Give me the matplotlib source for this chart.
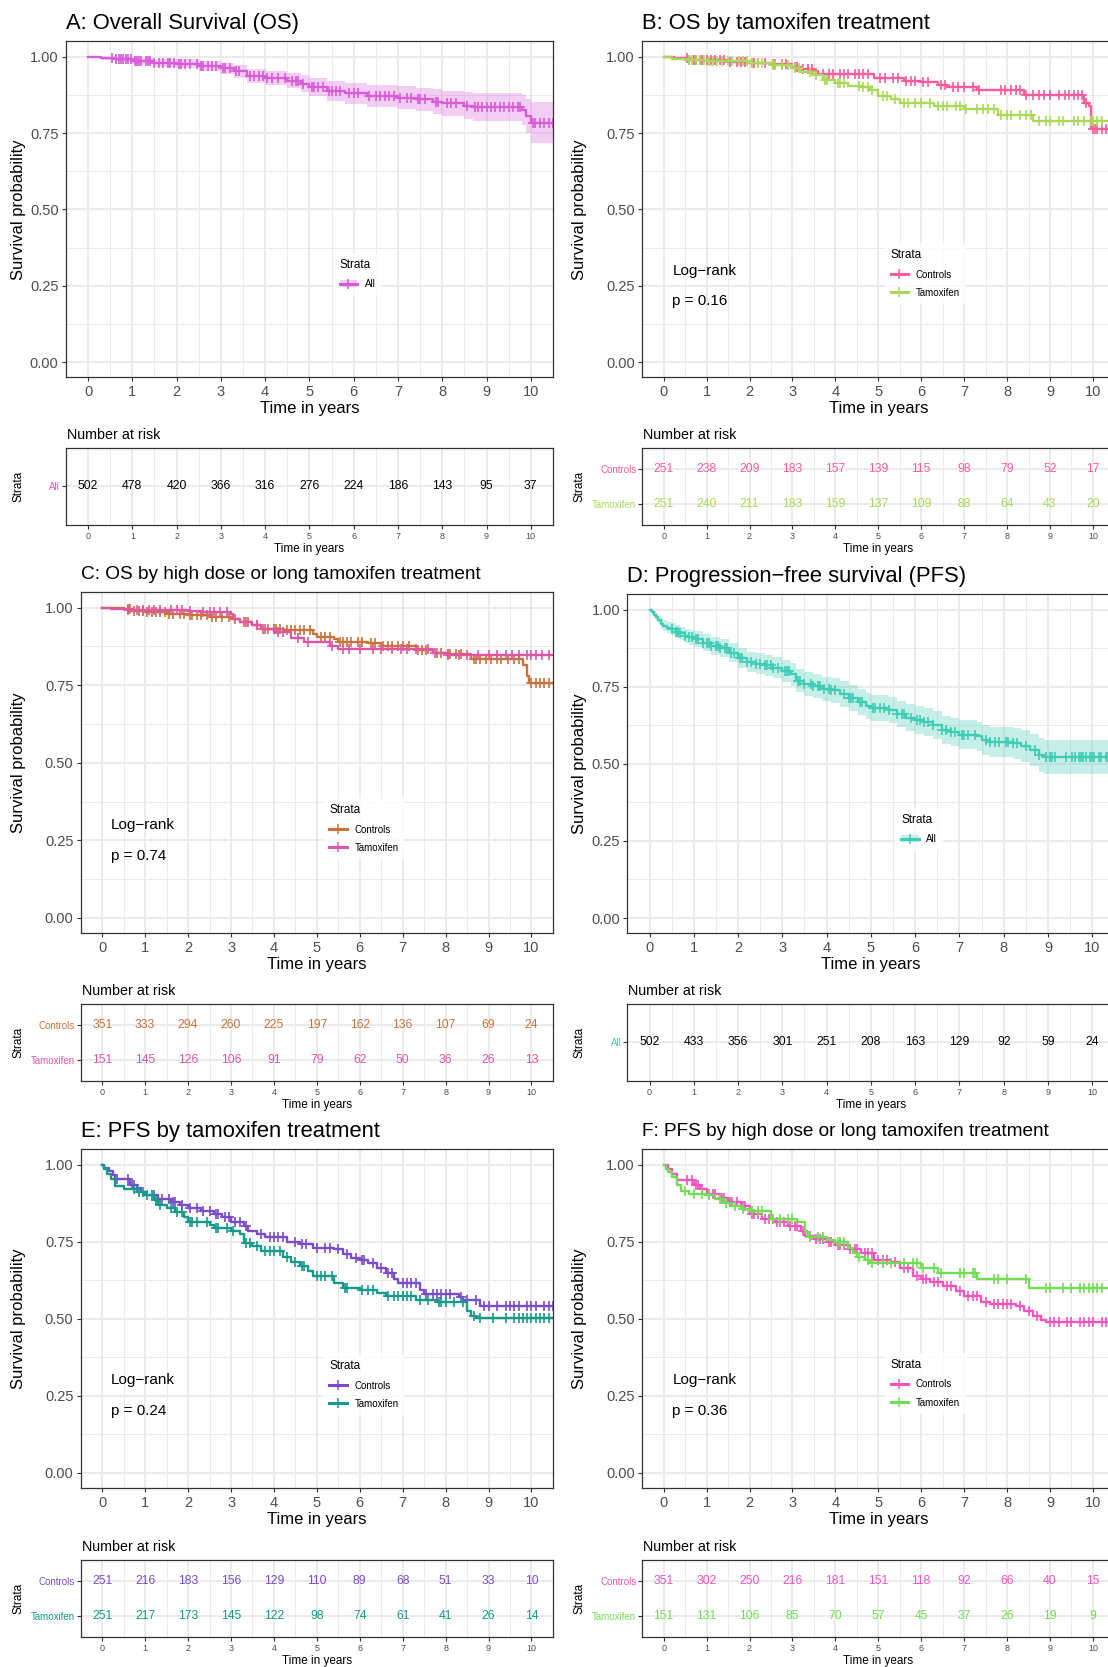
import matplotlib
matplotlib.use("Agg")
import matplotlib.pyplot as plt
from matplotlib.lines import Line2D
from matplotlib.patches import Patch
from matplotlib.ticker import MultipleLocator, FormatStrFormatter
import numpy as np

plt.rcParams['font.family'] = ['Liberation Sans', 'DejaVu Sans']

years = list(range(11))
strata2 = ['Controls', 'Tamoxifen']

# ---------------- A: overall survival ----------------
a_time = [0, 0.3, 0.6, 1.0, 1.5, 2.0, 2.5, 3.0, 3.3, 3.6, 4.0, 4.5, 4.8, 5.0, 5.4, 5.8,
          6.3, 7.0, 7.4, 7.8, 8.0, 8.5, 8.7, 9.8, 9.9, 10.0, 10.6]
a_surv = [1.0, 0.995, 0.991, 0.986, 0.981, 0.977, 0.970, 0.962, 0.952, 0.937, 0.930, 0.922,
          0.912, 0.900, 0.888, 0.880, 0.872, 0.866, 0.860, 0.853, 0.847, 0.840, 0.834, 0.826,
          0.805, 0.782, 0.782]
a_lo = [1.0, 0.988, 0.982, 0.975, 0.968, 0.963, 0.954, 0.944, 0.932, 0.915, 0.906, 0.896,
        0.884, 0.870, 0.856, 0.846, 0.837, 0.829, 0.821, 0.812, 0.805, 0.796, 0.788, 0.778,
        0.750, 0.718, 0.718]
a_hi = [1.0, 1.0, 1.0, 0.997, 0.993, 0.991, 0.986, 0.980, 0.972, 0.960, 0.954, 0.948,
        0.940, 0.930, 0.920, 0.914, 0.907, 0.903, 0.899, 0.894, 0.889, 0.884, 0.880, 0.874,
        0.860, 0.852, 0.852]
a_cens = [0.55, 0.62, 0.7, 0.75, 0.8, 0.85, 0.9, 0.97, 1.05, 1.1, 1.15, 1.2, 1.3, 1.35, 1.4,
          1.5, 1.6, 1.7, 1.8, 1.85, 1.95, 2.05, 2.1, 2.2, 2.3, 2.45, 2.55, 2.6, 2.7, 2.8, 2.9,
          3.05, 3.1, 3.2, 3.35, 3.4, 3.65, 3.75, 3.85, 3.95, 4.05, 4.15, 4.3, 4.45, 4.6, 4.7,
          4.75, 4.85, 5.05, 5.1, 5.2, 5.3, 5.45, 5.5, 5.6, 5.7, 5.9, 6.0, 6.1, 6.35, 6.5, 6.6,
          6.7, 6.8, 6.9, 7.05, 7.2, 7.3, 7.45, 7.5, 7.6, 7.85, 7.9, 8.1, 8.2, 8.3, 8.55, 8.75,
          8.8, 8.9, 9.0, 9.1, 9.2, 9.3, 9.4, 9.5, 9.6, 9.7, 9.75, 10.05, 10.1, 10.2, 10.3, 10.4,
          10.5]
a_risk = [502, 478, 420, 366, 316, 276, 224, 186, 143, 95, 37]

# ---------------- B: OS by tamoxifen ----------------
b_ctrl_time = [0, 0.25, 0.6, 1.0, 1.5, 2.0, 2.5, 3.0, 3.2, 3.5, 3.6, 4.9, 5.6, 6.0, 6.4, 6.6,
               7.3, 8.4, 9.8, 9.9, 9.95, 10.6]
b_ctrl_surv = [1.0, 0.996, 0.990, 0.988, 0.983, 0.980, 0.975, 0.965, 0.960, 0.952, 0.943,
               0.932, 0.920, 0.918, 0.908, 0.900, 0.890, 0.876, 0.850, 0.840, 0.765, 0.765]
b_ctrl_cens = [0.55, 0.6, 0.7, 0.75, 0.85, 0.9, 1.0, 1.1, 1.2, 1.3, 1.4, 1.55, 1.7, 1.8, 1.9,
               2.05, 2.1, 2.2, 2.35, 2.55, 2.6, 2.75, 2.85, 3.05, 3.1, 3.25, 3.35, 3.45, 3.7,
               3.85, 3.95, 4.1, 4.2, 4.3, 4.45, 4.55, 4.65, 4.75, 5.05, 5.15, 5.35, 5.45, 5.65,
               5.75, 5.85, 6.05, 6.15, 6.45, 6.55, 6.75, 6.85, 7.0, 7.2, 7.35, 7.85, 7.95, 8.1,
               8.2, 8.3, 8.45, 8.6, 8.75, 8.85, 9.0, 9.2, 9.35, 9.45, 9.55, 9.65, 9.75, 9.85,
               10.0, 10.05, 10.1, 10.2, 10.3, 10.4, 10.5]
b_tam_time = [0, 0.2, 0.6, 1.0, 2.0, 2.5, 3.0, 3.2, 3.5, 3.7, 4.0, 4.3, 4.6, 4.8, 5.0, 5.3,
              5.5, 6.3, 7.0, 7.8, 8.6, 10.6]
b_tam_surv = [1.0, 0.993, 0.990, 0.987, 0.980, 0.972, 0.962, 0.950, 0.940, 0.925, 0.915,
              0.905, 0.900, 0.890, 0.870, 0.860, 0.848, 0.840, 0.830, 0.810, 0.790, 0.790]
b_tam_cens = [0.6, 0.65, 0.75, 0.85, 0.95, 1.05, 1.15, 1.25, 1.35, 1.5, 1.6, 1.75, 1.85, 1.95,
              2.05, 2.2, 2.3, 2.55, 2.6, 2.75, 2.9, 3.05, 3.15, 3.4, 3.55, 3.75, 3.8, 4.05,
              4.1, 4.2, 4.55, 4.65, 4.75, 4.85, 5.1, 5.2, 5.4, 5.6, 5.7, 5.85, 6.0, 6.2, 6.4,
              6.5, 6.6, 6.8, 6.9, 7.05, 7.3, 7.45, 7.55, 7.7, 7.85, 8.0, 8.1, 8.3, 8.45, 8.55,
              8.75, 8.9, 9.0, 9.2, 9.3, 9.55, 9.65, 9.8, 9.95, 10.0, 10.1, 10.2, 10.4, 10.5]
b_risk_ctrl = [251, 238, 209, 183, 157, 139, 115, 98, 79, 52, 17]
b_risk_tam = [251, 240, 211, 183, 159, 137, 109, 88, 64, 43, 20]

# ---------------- C: OS by high dose / long tamoxifen ----------------
c_ctrl_time = [0, 0.5, 0.7, 1.0, 1.5, 2.0, 2.5, 3.0, 3.2, 3.5, 3.7, 4.2, 4.9, 5.0, 5.4, 5.5,
               6.2, 6.5, 7.3, 7.7, 8.0, 8.6, 9.8, 9.9, 9.95, 10.6]
c_ctrl_surv = [1.0, 0.995, 0.990, 0.985, 0.980, 0.975, 0.970, 0.962, 0.955, 0.945, 0.930,
               0.927, 0.915, 0.905, 0.900, 0.890, 0.885, 0.875, 0.865, 0.855, 0.850, 0.835,
               0.815, 0.780, 0.757, 0.757]
c_ctrl_cens = [0.6, 0.65, 0.75, 0.85, 0.95, 1.05, 1.15, 1.25, 1.35, 1.45, 1.55, 1.65, 1.8,
               1.9, 2.05, 2.1, 2.2, 2.3, 2.45, 2.55, 2.65, 2.8, 2.95, 3.1, 3.3, 3.4, 3.6, 3.75,
               3.85, 4.0, 4.05, 4.15, 4.3, 4.4, 4.5, 4.6, 4.7, 4.85, 5.1, 5.2, 5.3, 5.55, 5.6,
               5.7, 5.8, 5.95, 6.05, 6.25, 6.35, 6.55, 6.65, 6.75, 6.9, 7.0, 7.15, 7.35, 7.45,
               7.55, 7.8, 7.9, 8.05, 8.1, 8.25, 8.35, 8.65, 8.7, 8.8, 8.95, 9.05, 9.2, 9.3,
               9.45, 9.6, 9.7, 10.0, 10.1, 10.2, 10.3, 10.4]
c_tam_time = [0, 0.2, 0.6, 2.0, 2.3, 3.0, 3.05, 3.2, 3.5, 3.7, 4.0, 4.4, 4.7, 5.3, 5.5, 7.7,
              8.0, 10.6]
c_tam_surv = [1.0, 0.995, 0.993, 0.990, 0.985, 0.980, 0.965, 0.955, 0.945, 0.930, 0.922,
              0.902, 0.890, 0.875, 0.868, 0.855, 0.848, 0.848]
c_tam_cens = [0.6, 0.8, 0.95, 1.1, 1.2, 1.35, 1.6, 1.75, 1.85, 2.05, 2.35, 2.5, 2.6, 2.75,
              2.9, 3.35, 3.6, 3.8, 4.1, 4.2, 4.55, 4.8, 5.35, 5.6, 5.75, 6.0, 6.3, 6.5, 6.75,
              6.95, 7.1, 7.3, 7.6, 7.75, 8.05, 8.3, 8.5, 8.75, 9.0, 9.2, 9.4, 9.55, 9.7, 9.9,
              10.0, 10.1, 10.25, 10.4]
c_risk_ctrl = [351, 333, 294, 260, 225, 197, 162, 136, 107, 69, 24]
c_risk_tam = [151, 145, 126, 106, 91, 79, 62, 50, 36, 26, 13]

# ---------------- D: progression-free survival ----------------
d_time = [0, 0.05, 0.1, 0.15, 0.2, 0.25, 0.3, 0.4, 0.5, 0.6, 0.7, 0.8, 0.9, 1.0, 1.2, 1.4,
          1.6, 1.8, 2.0, 2.2, 2.4, 2.6, 2.8, 3.0, 3.2, 3.3, 3.5, 3.7, 3.9, 4.1, 4.3, 4.5,
          4.7, 4.9, 5.0, 5.4, 5.6, 5.8, 6.0, 6.2, 6.4, 6.6, 6.8, 7.0, 7.4, 7.5, 7.7, 8.2,
          8.4, 8.6, 8.8, 8.9, 10.6]
d_surv = [1.0, 0.991, 0.984, 0.977, 0.968, 0.955, 0.948, 0.942, 0.937, 0.929, 0.923, 0.915,
          0.910, 0.904, 0.893, 0.882, 0.875, 0.861, 0.844, 0.831, 0.825, 0.820, 0.812, 0.801,
          0.790, 0.770, 0.759, 0.752, 0.743, 0.738, 0.727, 0.714, 0.700, 0.687, 0.681, 0.676,
          0.661, 0.650, 0.643, 0.635, 0.625, 0.610, 0.603, 0.594, 0.589, 0.578, 0.572, 0.567,
          0.558, 0.545, 0.529, 0.521, 0.521]
d_lo = [1.0, 0.983, 0.973, 0.964, 0.953, 0.938, 0.930, 0.923, 0.917, 0.908, 0.901, 0.892,
        0.886, 0.878, 0.866, 0.853, 0.845, 0.830, 0.812, 0.798, 0.791, 0.786, 0.777, 0.765,
        0.753, 0.732, 0.721, 0.713, 0.703, 0.698, 0.686, 0.673, 0.658, 0.645, 0.639, 0.634,
        0.618, 0.606, 0.598, 0.590, 0.580, 0.564, 0.557, 0.547, 0.541, 0.529, 0.523, 0.517,
        0.507, 0.493, 0.475, 0.466, 0.466]
d_hi = [1.0, 0.999, 0.995, 0.990, 0.983, 0.972, 0.966, 0.961, 0.957, 0.950, 0.945, 0.938,
        0.934, 0.930, 0.920, 0.911, 0.905, 0.892, 0.876, 0.864, 0.859, 0.854, 0.847, 0.837,
        0.827, 0.808, 0.797, 0.791, 0.783, 0.778, 0.768, 0.755, 0.742, 0.729, 0.723, 0.718,
        0.704, 0.694, 0.688, 0.680, 0.670, 0.656, 0.649, 0.641, 0.637, 0.627, 0.621, 0.617,
        0.609, 0.597, 0.583, 0.578, 0.578]
d_cens = [0.5, 0.6, 0.65, 0.7, 0.8, 0.9, 0.95, 1.05, 1.1, 1.2, 1.3, 1.35, 1.4, 1.5, 1.55,
          1.6, 1.7, 1.75, 1.85, 1.9, 2.05, 2.1, 2.2, 2.3, 2.4, 2.5, 2.6, 2.65, 2.75, 2.8, 2.9,
          3.05, 3.1, 3.15, 3.35, 3.4, 3.5, 3.65, 3.7, 3.8, 3.85, 3.95, 4.05, 4.1, 4.2, 4.4,
          4.5, 4.55, 4.6, 4.75, 4.8, 5.05, 5.1, 5.2, 5.3, 5.4, 5.6, 5.7, 5.75, 5.9, 6.05,
          6.1, 6.2, 6.3, 6.4, 6.6, 6.7, 6.8, 6.9, 7.05, 7.1, 7.2, 7.35, 7.6, 7.7, 7.8, 7.9,
          8.05, 8.1, 8.2, 8.3, 8.5, 8.7, 8.8, 8.95, 9.05, 9.1, 9.15, 9.4, 9.55, 9.6, 9.7,
          9.75, 9.8, 9.85, 9.95, 10.0, 10.05, 10.15, 10.2, 10.3, 10.35, 10.4, 10.5]
d_risk = [502, 433, 356, 301, 251, 208, 163, 129, 92, 59, 24]

# ---------------- E: PFS by tamoxifen ----------------
e_ctrl_time = [0, 0.05, 0.15, 0.25, 0.3, 0.65, 0.8, 0.9, 1.0, 1.3, 1.6, 1.8, 2.0, 2.3, 2.6,
               2.8, 3.0, 3.3, 3.4, 3.6, 3.8, 4.3, 4.6, 4.9, 5.4, 5.6, 5.8, 6.0, 6.2, 6.4, 6.6,
               6.8, 6.9, 7.4, 7.5, 8.3, 8.4, 8.8, 10.6]
e_ctrl_surv = [1.0, 0.990, 0.980, 0.965, 0.955, 0.935, 0.925, 0.910, 0.900, 0.890, 0.880,
               0.870, 0.858, 0.850, 0.840, 0.830, 0.815, 0.800, 0.785, 0.775, 0.765, 0.750,
               0.742, 0.730, 0.725, 0.710, 0.697, 0.690, 0.680, 0.665, 0.650, 0.630, 0.615,
               0.595, 0.582, 0.570, 0.560, 0.543, 0.543]
e_ctrl_cens = [0.35, 0.6, 0.7, 0.75, 1.2, 1.4, 1.55, 1.65, 1.7, 1.85, 2.05, 2.2, 2.35, 2.5,
               2.65, 2.7, 2.85, 2.95, 3.1, 3.2, 3.35, 3.7, 3.9, 4.0, 4.1, 4.2, 4.5, 4.65, 4.75,
               5.0, 5.2, 5.3, 5.5, 5.7, 5.9, 6.05, 6.1, 6.3, 6.5, 6.65, 6.75, 7.0, 7.1, 7.2,
               7.3, 7.55, 7.7, 7.8, 7.9, 8.0, 8.1, 8.35, 8.5, 8.7, 8.9, 9.0, 9.2, 9.4, 9.5,
               9.6, 9.7, 9.9, 10.0, 10.1, 10.3, 10.4, 10.5]
e_tam_time = [0, 0.05, 0.1, 0.2, 0.3, 0.5, 0.8, 1.0, 1.2, 1.3, 1.5, 1.7, 1.9, 2.0, 2.5, 2.6,
              3.0, 3.2, 3.3, 3.5, 3.7, 4.2, 4.4, 4.6, 4.8, 4.9, 5.4, 5.6, 6.0, 6.4, 6.6, 7.3,
              7.8, 8.5, 8.6, 8.7, 10.6]
e_tam_surv = [1.0, 0.985, 0.970, 0.955, 0.930, 0.920, 0.910, 0.900, 0.885, 0.870, 0.860,
              0.845, 0.830, 0.815, 0.805, 0.795, 0.785, 0.775, 0.745, 0.735, 0.720, 0.700,
              0.685, 0.670, 0.655, 0.638, 0.615, 0.600, 0.593, 0.585, 0.575, 0.560, 0.553,
              0.525, 0.510, 0.503, 0.503]
e_tam_cens = [0.75, 0.85, 0.95, 1.05, 1.15, 1.25, 1.35, 1.6, 1.75, 1.85, 2.05, 2.1, 2.2, 2.45,
              2.65, 2.7, 2.9, 3.05, 3.35, 3.45, 3.6, 3.8, 3.9, 4.0, 4.15, 4.3, 4.5, 4.65, 4.7,
              5.0, 5.1, 5.2, 5.35, 5.65, 5.7, 6.05, 6.2, 6.3, 6.65, 6.8, 6.9, 7.0, 7.1, 7.2,
              7.4, 7.6, 7.85, 7.9, 8.0, 8.2, 8.4, 8.65, 8.8, 9.1, 9.4, 9.6, 9.7, 9.8, 9.9,
              10.0, 10.1, 10.2, 10.3, 10.4]
e_risk_ctrl = [251, 216, 183, 156, 129, 110, 89, 68, 51, 33, 10]
e_risk_tam = [251, 217, 173, 145, 122, 98, 74, 61, 41, 26, 14]

# ---------------- F: PFS by high dose / long tamoxifen ----------------
f_ctrl_time = [0, 0.1, 0.2, 0.3, 0.7, 0.85, 1.0, 1.3, 1.5, 1.8, 2.0, 2.3, 2.6, 2.9, 3.2, 3.3,
               3.5, 3.8, 4.0, 4.3, 4.6, 4.9, 5.3, 5.5, 5.8, 6.0, 6.2, 6.5, 6.8, 7.0, 7.4, 7.6,
               8.2, 8.4, 8.6, 8.8, 8.9, 10.6]
f_ctrl_surv = [1.0, 0.985, 0.970, 0.950, 0.935, 0.920, 0.905, 0.893, 0.880, 0.865, 0.840,
               0.825, 0.815, 0.800, 0.785, 0.770, 0.760, 0.750, 0.740, 0.725, 0.712, 0.690,
               0.685, 0.665, 0.640, 0.630, 0.620, 0.605, 0.590, 0.575, 0.555, 0.548, 0.540,
               0.525, 0.510, 0.495, 0.490, 0.490]
f_ctrl_cens = [0.55, 0.65, 0.75, 0.8, 0.9, 1.05, 1.15, 1.2, 1.35, 1.4, 1.55, 1.6, 1.7, 1.85,
               1.9, 2.05, 2.1, 2.2, 2.35, 2.45, 2.55, 2.65, 2.7, 2.8, 2.95, 3.05, 3.1, 3.25,
               3.4, 3.55, 3.65, 3.7, 3.85, 3.9, 4.05, 4.1, 4.2, 4.35, 4.45, 4.5, 4.7, 4.75,
               4.85, 5.0, 5.1, 5.2, 5.4, 5.6, 5.7, 5.9, 6.05, 6.1, 6.3, 6.4, 6.6, 6.7, 6.9,
               7.1, 7.2, 7.3, 7.5, 7.7, 7.8, 7.9, 8.0, 8.1, 8.3, 8.5, 8.7, 9.0, 9.1, 9.2,
               9.4, 9.5, 9.7, 9.8, 9.9, 10.0, 10.2, 10.3, 10.4, 10.5]
f_tam_time = [0, 0.05, 0.1, 0.2, 0.3, 0.4, 0.6, 1.0, 1.2, 1.4, 1.6, 1.8, 2.0, 2.5, 3.1, 3.3,
              3.35, 3.8, 4.0, 4.3, 4.4, 4.5, 4.7, 4.8, 6.0, 6.4, 7.3, 8.5, 10.6]
f_tam_surv = [1.0, 0.985, 0.975, 0.960, 0.935, 0.915, 0.905, 0.900, 0.890, 0.875, 0.865,
              0.855, 0.850, 0.825, 0.815, 0.780, 0.765, 0.755, 0.748, 0.730, 0.715, 0.700,
              0.690, 0.680, 0.665, 0.650, 0.630, 0.600, 0.600]
f_tam_cens = [0.5, 0.7, 0.9, 1.05, 1.3, 1.45, 1.65, 1.85, 2.05, 2.2, 2.3, 2.55, 2.7, 2.9,
              3.0, 3.4, 3.6, 3.7, 4.05, 4.1, 4.2, 4.55, 4.75, 4.85, 5.1, 5.3, 5.6, 5.8, 5.9,
              6.05, 6.3, 6.45, 6.9, 7.0, 7.2, 7.25, 7.7, 7.8, 8.0, 8.45, 8.9, 9.0, 9.3, 9.5,
              9.7, 9.8, 9.9, 10.0, 10.1, 10.2, 10.4, 10.5]
f_risk_ctrl = [351, 302, 250, 216, 181, 151, 118, 92, 66, 40, 15]
f_risk_tam = [151, 131, 106, 85, 70, 57, 45, 37, 26, 19, 9]

# colours
col_a = '#D85BD8'
col_b = ['#FF5A9B', '#A9D957']
col_c = ['#C9733B', '#E055A8']
col_d = '#3FCDB5'
col_e = ['#7A4CCB', '#14998A']
col_f = ['#F553BF', '#71DD55']

GRID = '#EBEBEB'
DARK = '#333333'
TICKTXT = '#4D4D4D'

# layout is measured on the reference scaled to 1042 x 1568
W, H = 1042.0, 1568.0
fig = plt.figure(figsize=(11.08, 16.67), dpi=100)


def rect(l, t, r, b):
    return [l / W, 1 - b / H, (r - l) / W, (b - t) / H]


def ftext(x, y, s, **kw):
    return fig.text(x / W, 1 - y / H, s, **kw)


def frame(ax, ysteps, yminor):
    ax.set_xlim(-0.5, 10.5)
    ax.xaxis.set_major_locator(MultipleLocator(1))
    ax.xaxis.set_minor_locator(MultipleLocator(0.5))
    if ysteps:
        ax.yaxis.set_major_locator(MultipleLocator(ysteps))
        ax.yaxis.set_minor_locator(MultipleLocator(yminor))
    ax.grid(which='major', color=GRID, lw=1.4)
    ax.grid(which='minor', color=GRID, lw=0.7)
    ax.set_axisbelow(True)
    for sp in ax.spines.values():
        sp.set_color(DARK)
        sp.set_linewidth(0.9)
    ax.tick_params(which='minor', length=0)
    ax.tick_params(which='major', length=2.8, width=0.8, color=DARK)


def step_at(times, surv, pts):
    idx = np.searchsorted(times, pts, side='right') - 1
    return np.asarray(surv)[idx]


def km_panel(box, title, tsize, curves, colors, names, ci=None, pval=None,
             leg_xy=None, ylab_x=17):
    l, t, r, b = box
    ax = fig.add_axes(rect(l, t, r, b))
    frame(ax, 0.25, 0.125)
    ax.set_ylim(-0.05, 1.05)
    ax.yaxis.set_major_formatter(FormatStrFormatter('%.2f'))
    ax.tick_params(labelsize=10.5, labelcolor=TICKTXT, pad=2.5)
    if ci is not None:
        tt, lo, hi = ci
        ax.fill_between(tt, lo, hi, step='post', color=colors[0], alpha=0.3, lw=0)
    for (tt, ss, cc), c in zip(curves, colors):
        ax.step(tt, ss, where='post', color=c, lw=1.7)
        ax.plot(cc, step_at(tt, ss, cc), ls='none', marker='+', ms=6.5, mew=1.2, color=c)
    if pval is not None:
        ax.text(0.2, 0.30, 'Log\u2212rank', fontsize=11, ha='left', va='center')
        ax.text(0.2, 0.20, 'p = ' + pval, fontsize=11, ha='left', va='center')
    # legend
    handles = []
    for c in colors:
        ln = Line2D([], [], color=c, lw=2.2, marker='+', ms=7, mew=1.1)
        if ci is not None:
            handles.append((Patch(facecolor=c, alpha=0.3, lw=0), ln))
        else:
            handles.append(ln)
    lx, ly = leg_xy
    leg = ax.legend(handles, names, title='Strata', loc='upper left',
                    bbox_to_anchor=(lx / W, 1 - ly / H), bbox_transform=fig.transFigure,
                    fontsize=7, title_fontsize=8.5, alignment='left', frameon=True,
                    handlelength=1.8, handletextpad=0.8, labelspacing=0.85,
                    borderpad=0.6, borderaxespad=0)
    leg.get_frame().set_facecolor('white')
    leg.get_frame().set_edgecolor('none')
    leg.get_frame().set_boxstyle('square', pad=0)
    ftext(l, t - 17, title, fontsize=tsize, ha='left', va='center')
    ftext((l + r) / 2, b + 29, 'Time in years', fontsize=12, ha='center', va='center')
    ftext(ylab_x, (t + b) / 2, 'Survival probability', fontsize=12, rotation=90,
          ha='center', va='center')
    return ax


def risk_panel(box, names, counts, colors, num_colors, ylab_x=17):
    l, t, r, b = box
    ax = fig.add_axes(rect(l, t, r, b))
    frame(ax, None, None)
    n = len(names)
    ax.set_ylim(n + 0.6, 0.4)
    ax.set_yticks(range(1, n + 1))
    ax.set_yticklabels(names)
    for lab, c in zip(ax.get_yticklabels(), colors):
        lab.set_color(c)
    ax.tick_params(axis='y', labelsize=7, pad=1.5)
    ax.tick_params(axis='x', labelsize=6.5, labelcolor=TICKTXT, pad=2)
    for i, (row, nc) in enumerate(zip(counts, num_colors)):
        for yr, v in zip(years, row):
            ax.text(yr, i + 1, str(v), ha='center', va='center', color=nc, fontsize=8.8)
    ftext(l + 1, t - 12, 'Number at risk', fontsize=10.3, ha='left', va='center')
    ftext((l + r) / 2, b + 22, 'Time in years', fontsize=8.5, ha='center', va='center')
    ftext(ylab_x, (t + b) / 2, 'Strata', fontsize=8.5, rotation=90, ha='center',
          va='center')
    return ax


# A
km_panel((62, 39, 520, 355), 'A: Overall Survival (OS)', 15.8,
         [(a_time, a_surv, a_cens)], [col_a], ['All'], ci=(a_time, a_lo, a_hi),
         leg_xy=(314, 238))
risk_panel((62, 421, 520, 494), ['All'], [a_risk], [col_a], ['black'])

# B
km_panel((604, 39, 1048, 355), 'B: OS by tamoxifen treatment', 15.8,
         [(b_ctrl_time, b_ctrl_surv, b_ctrl_cens), (b_tam_time, b_tam_surv, b_tam_cens)],
         col_b, strata2, pval='0.16', leg_xy=(832, 229), ylab_x=545)
risk_panel((604, 421, 1048, 494), strata2, [b_risk_ctrl, b_risk_tam], col_b, col_b,
           ylab_x=545)

# C
km_panel((76, 557, 520, 878), 'C: OS by high dose or long tamoxifen treatment', 13.7,
         [(c_ctrl_time, c_ctrl_surv, c_ctrl_cens), (c_tam_time, c_tam_surv, c_tam_cens)],
         col_c, strata2, pval='0.74', leg_xy=(304, 751))
risk_panel((76, 944, 520, 1017), strata2, [c_risk_ctrl, c_risk_tam], col_c, col_c)

# D
km_panel((590, 559, 1048, 878), 'D: Progression\u2212free survival (PFS)', 15.8,
         [(d_time, d_surv, d_cens)], [col_d], ['All'], ci=(d_time, d_lo, d_hi),
         leg_xy=(842, 760), ylab_x=545)
risk_panel((590, 944, 1048, 1017), ['All'], [d_risk], [col_d], ['black'], ylab_x=545)

# E
km_panel((76, 1081, 520, 1400), 'E: PFS by tamoxifen treatment', 15.8,
         [(e_ctrl_time, e_ctrl_surv, e_ctrl_cens), (e_tam_time, e_tam_surv, e_tam_cens)],
         col_e, strata2, pval='0.24', leg_xy=(304, 1274))
risk_panel((76, 1467, 520, 1540), strata2, [e_risk_ctrl, e_risk_tam], col_e, col_e)

# F
km_panel((604, 1081, 1048, 1400), 'F: PFS by high dose or long tamoxifen treatment', 13.7,
         [(f_ctrl_time, f_ctrl_surv, f_ctrl_cens), (f_tam_time, f_tam_surv, f_tam_cens)],
         col_f, strata2, pval='0.36', leg_xy=(832, 1273), ylab_x=545)
risk_panel((604, 1467, 1048, 1540), strata2, [f_risk_ctrl, f_risk_tam], col_f, col_f,
           ylab_x=545)

fig.savefig('out.png', dpi=100, facecolor='white')
